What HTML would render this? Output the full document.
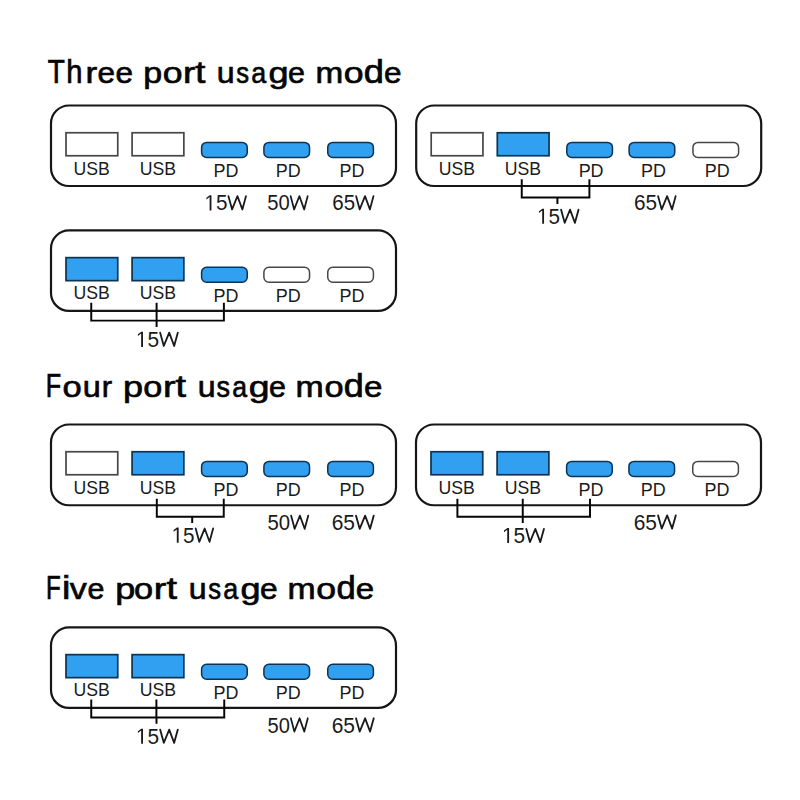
<!DOCTYPE html>
<html><head><meta charset="utf-8"><style>
html,body{margin:0;padding:0;background:#fff;width:800px;height:800px;overflow:hidden}
svg{display:block}
text{font-family:"Liberation Sans",sans-serif;fill:#1a1a1a}
.ttl{fill:#050505;stroke:#050505;stroke-width:0.7px}
</style></head><body>
<svg width="800" height="800" viewBox="0 0 800 800">
<text transform="translate(47.72,82.80) scale(0.887,1.045)" font-size="31.5" class="ttl">T</text>
<text transform="translate(66.33,82.80) scale(0.926,1.045)" font-size="31.5" class="ttl">h</text>
<text transform="translate(85.51,82.80) scale(1.117,0.965)" font-size="31.5" class="ttl">r</text>
<text transform="translate(97.51,82.80) scale(1.001,0.965)" font-size="31.5" class="ttl">e</text>
<text transform="translate(115.51,82.80) scale(1.001,0.965)" font-size="31.5" class="ttl">e</text>
<text transform="translate(143.16,82.80) scale(1.080,0.965)" font-size="31.5" class="ttl">p</text>
<text transform="translate(162.86,82.80) scale(1.130,0.965)" font-size="31.5" class="ttl">o</text>
<text transform="translate(182.88,82.80) scale(1.181,0.965)" font-size="31.5" class="ttl">r</text>
<text transform="translate(195.30,82.80) scale(1.156,1.0)" font-size="31.5" class="ttl">t</text>
<text transform="translate(216.66,82.80) scale(1.020,0.965)" font-size="31.5" class="ttl">u</text>
<text transform="translate(236.14,82.80) scale(0.815,0.965)" font-size="31.5" class="ttl">s</text>
<text transform="translate(251.21,82.80) scale(0.853,0.965)" font-size="31.5" class="ttl">a</text>
<text transform="translate(268.44,82.80) scale(1.144,0.965)" font-size="31.5" class="ttl">g</text>
<text transform="translate(288.06,82.80) scale(0.967,0.965)" font-size="31.5" class="ttl">e</text>
<text transform="translate(315.39,82.80) scale(1.056,0.965)" font-size="31.5" class="ttl">m</text>
<text transform="translate(343.86,82.80) scale(1.130,0.965)" font-size="31.5" class="ttl">o</text>
<text transform="translate(363.83,82.80) scale(1.151,1.045)" font-size="31.5" class="ttl">d</text>
<text transform="translate(384.01,82.80) scale(1.001,0.965)" font-size="31.5" class="ttl">e</text>
<rect x="51.00" y="105.50" width="345.00" height="80.50" rx="18" fill="none" stroke="#161616" stroke-width="2.2"/>
<rect x="66.00" y="132.75" width="51.75" height="23.00" fill="#ffffff" stroke="#474747" stroke-width="1.7"/>
<text transform="translate(73.54,174.50) scale(0.93,1)" font-size="19.0" >USB</text>
<rect x="132.10" y="132.75" width="51.75" height="23.00" fill="#ffffff" stroke="#474747" stroke-width="1.7"/>
<text transform="translate(139.64,174.50) scale(0.93,1)" font-size="19.0" >USB</text>
<rect x="201.60" y="142.40" width="45.65" height="15.00" rx="5" fill="#32a0f0" stroke="#0c3352" stroke-width="1.5"/>
<text transform="translate(213.43,176.90) scale(0.945,1)" font-size="19.0" >PD</text>
<rect x="263.90" y="142.40" width="45.65" height="15.00" rx="5" fill="#32a0f0" stroke="#0c3352" stroke-width="1.5"/>
<text transform="translate(275.73,176.90) scale(0.945,1)" font-size="19.0" >PD</text>
<rect x="327.75" y="142.40" width="45.65" height="15.00" rx="5" fill="#32a0f0" stroke="#0c3352" stroke-width="1.5"/>
<text transform="translate(339.58,176.90) scale(0.945,1)" font-size="19.0" >PD</text>
<rect x="416.20" y="105.50" width="345.00" height="80.50" rx="18" fill="none" stroke="#161616" stroke-width="2.2"/>
<rect x="431.20" y="132.75" width="51.75" height="23.00" fill="#ffffff" stroke="#474747" stroke-width="1.7"/>
<text transform="translate(438.74,174.50) scale(0.93,1)" font-size="19.0" >USB</text>
<rect x="497.30" y="132.75" width="51.75" height="23.00" fill="#32a0f0" stroke="#0c3352" stroke-width="1.7"/>
<text transform="translate(504.84,174.50) scale(0.93,1)" font-size="19.0" >USB</text>
<rect x="566.80" y="142.40" width="45.65" height="15.00" rx="5" fill="#32a0f0" stroke="#0c3352" stroke-width="1.5"/>
<text transform="translate(578.63,176.90) scale(0.945,1)" font-size="19.0" >PD</text>
<rect x="629.10" y="142.40" width="45.65" height="15.00" rx="5" fill="#32a0f0" stroke="#0c3352" stroke-width="1.5"/>
<text transform="translate(640.93,176.90) scale(0.945,1)" font-size="19.0" >PD</text>
<rect x="692.95" y="142.40" width="45.65" height="15.00" rx="5" fill="#ffffff" stroke="#474747" stroke-width="1.5"/>
<text transform="translate(704.78,176.90) scale(0.945,1)" font-size="19.0" >PD</text>
<rect x="51.00" y="230.40" width="345.00" height="80.50" rx="18" fill="none" stroke="#161616" stroke-width="2.2"/>
<rect x="66.00" y="257.65" width="51.75" height="23.00" fill="#32a0f0" stroke="#0c3352" stroke-width="1.7"/>
<text transform="translate(73.54,299.40) scale(0.93,1)" font-size="19.0" >USB</text>
<rect x="132.10" y="257.65" width="51.75" height="23.00" fill="#32a0f0" stroke="#0c3352" stroke-width="1.7"/>
<text transform="translate(139.64,299.40) scale(0.93,1)" font-size="19.0" >USB</text>
<rect x="201.60" y="267.30" width="45.65" height="15.00" rx="5" fill="#32a0f0" stroke="#0c3352" stroke-width="1.5"/>
<text transform="translate(213.43,301.80) scale(0.945,1)" font-size="19.0" >PD</text>
<rect x="263.90" y="267.30" width="45.65" height="15.00" rx="5" fill="#ffffff" stroke="#474747" stroke-width="1.5"/>
<text transform="translate(275.73,301.80) scale(0.945,1)" font-size="19.0" >PD</text>
<rect x="327.75" y="267.30" width="45.65" height="15.00" rx="5" fill="#ffffff" stroke="#474747" stroke-width="1.5"/>
<text transform="translate(339.58,301.80) scale(0.945,1)" font-size="19.0" >PD</text>
<text transform="translate(45.79,396.80) scale(0.799,1.045)" font-size="31.5" class="ttl">F</text>
<text transform="translate(62.40,396.80) scale(1.096,0.965)" font-size="31.5" class="ttl">o</text>
<text transform="translate(82.74,396.80) scale(1.031,0.965)" font-size="31.5" class="ttl">u</text>
<text transform="translate(101.78,396.80) scale(0.990,0.965)" font-size="31.5" class="ttl">r</text>
<text transform="translate(123.03,396.80) scale(1.144,0.965)" font-size="31.5" class="ttl">p</text>
<text transform="translate(143.31,396.80) scale(1.086,0.965)" font-size="31.5" class="ttl">o</text>
<text transform="translate(163.06,396.80) scale(1.200,0.965)" font-size="31.5" class="ttl">r</text>
<text transform="translate(175.53,396.80) scale(1.200,1.0)" font-size="31.5" class="ttl">t</text>
<text transform="translate(197.66,396.80) scale(1.020,0.965)" font-size="31.5" class="ttl">u</text>
<text transform="translate(216.50,396.80) scale(0.859,0.965)" font-size="31.5" class="ttl">s</text>
<text transform="translate(232.32,396.80) scale(0.847,0.965)" font-size="31.5" class="ttl">a</text>
<text transform="translate(248.78,396.80) scale(1.186,0.965)" font-size="31.5" class="ttl">g</text>
<text transform="translate(269.06,396.80) scale(0.967,0.965)" font-size="31.5" class="ttl">e</text>
<text transform="translate(295.60,396.80) scale(1.074,0.965)" font-size="31.5" class="ttl">m</text>
<text transform="translate(324.51,396.80) scale(1.089,0.965)" font-size="31.5" class="ttl">o</text>
<text transform="translate(343.84,396.80) scale(1.144,1.045)" font-size="31.5" class="ttl">d</text>
<text transform="translate(363.94,396.80) scale(1.052,0.965)" font-size="31.5" class="ttl">e</text>
<rect x="51.00" y="424.50" width="345.00" height="80.75" rx="18" fill="none" stroke="#161616" stroke-width="2.2"/>
<rect x="66.00" y="451.75" width="51.75" height="23.00" fill="#ffffff" stroke="#474747" stroke-width="1.7"/>
<text transform="translate(73.54,493.50) scale(0.93,1)" font-size="19.0" >USB</text>
<rect x="132.10" y="451.75" width="51.75" height="23.00" fill="#32a0f0" stroke="#0c3352" stroke-width="1.7"/>
<text transform="translate(139.64,493.50) scale(0.93,1)" font-size="19.0" >USB</text>
<rect x="201.60" y="461.40" width="45.65" height="15.00" rx="5" fill="#32a0f0" stroke="#0c3352" stroke-width="1.5"/>
<text transform="translate(213.43,495.90) scale(0.945,1)" font-size="19.0" >PD</text>
<rect x="263.90" y="461.40" width="45.65" height="15.00" rx="5" fill="#32a0f0" stroke="#0c3352" stroke-width="1.5"/>
<text transform="translate(275.73,495.90) scale(0.945,1)" font-size="19.0" >PD</text>
<rect x="327.75" y="461.40" width="45.65" height="15.00" rx="5" fill="#32a0f0" stroke="#0c3352" stroke-width="1.5"/>
<text transform="translate(339.58,495.90) scale(0.945,1)" font-size="19.0" >PD</text>
<rect x="416.00" y="424.50" width="345.00" height="80.75" rx="18" fill="none" stroke="#161616" stroke-width="2.2"/>
<rect x="431.00" y="451.75" width="51.75" height="23.00" fill="#32a0f0" stroke="#0c3352" stroke-width="1.7"/>
<text transform="translate(438.54,493.50) scale(0.93,1)" font-size="19.0" >USB</text>
<rect x="497.10" y="451.75" width="51.75" height="23.00" fill="#32a0f0" stroke="#0c3352" stroke-width="1.7"/>
<text transform="translate(504.64,493.50) scale(0.93,1)" font-size="19.0" >USB</text>
<rect x="566.60" y="461.40" width="45.65" height="15.00" rx="5" fill="#32a0f0" stroke="#0c3352" stroke-width="1.5"/>
<text transform="translate(578.43,495.90) scale(0.945,1)" font-size="19.0" >PD</text>
<rect x="628.90" y="461.40" width="45.65" height="15.00" rx="5" fill="#32a0f0" stroke="#0c3352" stroke-width="1.5"/>
<text transform="translate(640.73,495.90) scale(0.945,1)" font-size="19.0" >PD</text>
<rect x="692.75" y="461.40" width="45.65" height="15.00" rx="5" fill="#ffffff" stroke="#474747" stroke-width="1.5"/>
<text transform="translate(704.58,495.90) scale(0.945,1)" font-size="19.0" >PD</text>
<text transform="translate(46.12,599.30) scale(0.766,1.045)" font-size="31.5" class="ttl">F</text>
<text transform="translate(62.01,599.30) scale(1.200,1.045)" font-size="31.5" class="ttl">i</text>
<text transform="translate(69.83,599.30) scale(1.081,0.965)" font-size="31.5" class="ttl">v</text>
<text transform="translate(87.46,599.30) scale(0.967,0.965)" font-size="31.5" class="ttl">e</text>
<text transform="translate(115.13,599.30) scale(1.144,0.965)" font-size="31.5" class="ttl">p</text>
<text transform="translate(133.91,599.30) scale(1.089,0.965)" font-size="31.5" class="ttl">o</text>
<text transform="translate(153.69,599.30) scale(1.200,0.965)" font-size="31.5" class="ttl">r</text>
<text transform="translate(166.48,599.30) scale(1.200,1.0)" font-size="31.5" class="ttl">t</text>
<text transform="translate(188.66,599.30) scale(1.020,0.965)" font-size="31.5" class="ttl">u</text>
<text transform="translate(208.14,599.30) scale(0.815,0.965)" font-size="31.5" class="ttl">s</text>
<text transform="translate(223.21,599.30) scale(0.853,0.965)" font-size="31.5" class="ttl">a</text>
<text transform="translate(240.44,599.30) scale(1.144,0.965)" font-size="31.5" class="ttl">g</text>
<text transform="translate(260.00,599.30) scale(1.008,0.965)" font-size="31.5" class="ttl">e</text>
<text transform="translate(287.51,599.30) scale(1.072,0.965)" font-size="31.5" class="ttl">m</text>
<text transform="translate(316.36,599.30) scale(1.130,0.965)" font-size="31.5" class="ttl">o</text>
<text transform="translate(336.40,599.30) scale(1.098,1.045)" font-size="31.5" class="ttl">d</text>
<text transform="translate(355.85,599.30) scale(1.049,0.965)" font-size="31.5" class="ttl">e</text>
<rect x="51.00" y="627.40" width="345.00" height="80.50" rx="18" fill="none" stroke="#161616" stroke-width="2.2"/>
<rect x="66.00" y="654.65" width="51.75" height="23.00" fill="#32a0f0" stroke="#0c3352" stroke-width="1.7"/>
<text transform="translate(73.54,696.40) scale(0.93,1)" font-size="19.0" >USB</text>
<rect x="132.10" y="654.65" width="51.75" height="23.00" fill="#32a0f0" stroke="#0c3352" stroke-width="1.7"/>
<text transform="translate(139.64,696.40) scale(0.93,1)" font-size="19.0" >USB</text>
<rect x="201.60" y="664.30" width="45.65" height="15.00" rx="5" fill="#32a0f0" stroke="#0c3352" stroke-width="1.5"/>
<text transform="translate(213.43,698.80) scale(0.945,1)" font-size="19.0" >PD</text>
<rect x="263.90" y="664.30" width="45.65" height="15.00" rx="5" fill="#32a0f0" stroke="#0c3352" stroke-width="1.5"/>
<text transform="translate(275.73,698.80) scale(0.945,1)" font-size="19.0" >PD</text>
<rect x="327.75" y="664.30" width="45.65" height="15.00" rx="5" fill="#32a0f0" stroke="#0c3352" stroke-width="1.5"/>
<text transform="translate(339.58,698.80) scale(0.945,1)" font-size="19.0" >PD</text>
<g transform="translate(204.41,210.40) scale(0.9409,1)"><path d="M515 0V1237L197 1010V1180L530 1409H696V0Z" transform="scale(0.01074,-0.01074)" fill="#1a1a1a"/><text x="12.235" y="0" font-size="22.0">5</text><path d="M25.577,-14.186 L29.407,-0.950 L35.111,-14.186 L40.321,-0.950 L44.150,-14.186" fill="none" stroke="#1a1a1a" stroke-width="1.9" stroke-linejoin="round" stroke-linecap="round" transform="scale(1,1)"/></g>
<g transform="translate(267.19,210.40) scale(0.9169,1)"><text x="0.000" y="0" font-size="22.0">50</text><path d="M25.603,-14.186 L29.407,-0.950 L35.111,-14.186 L40.321,-0.950 L44.124,-14.186" fill="none" stroke="#1a1a1a" stroke-width="1.9" stroke-linejoin="round" stroke-linecap="round" transform="scale(1,1)"/></g>
<g transform="translate(332.26,210.40) scale(0.9332,1)"><text x="0.000" y="0" font-size="22.0">65</text><path d="M25.585,-14.186 L29.407,-0.950 L35.111,-14.186 L40.321,-0.950 L44.142,-14.186" fill="none" stroke="#1a1a1a" stroke-width="1.9" stroke-linejoin="round" stroke-linecap="round" transform="scale(1,1)"/></g>
<path d="M521.75,179.30 V197.50 H589.40 V179.30 M557.40,197.50 V204.10" fill="none" stroke="#050505" stroke-width="1.95"/>
<g transform="translate(537.01,223.80) scale(0.9409,1)"><path d="M515 0V1237L197 1010V1180L530 1409H696V0Z" transform="scale(0.01074,-0.01074)" fill="#1a1a1a"/><text x="12.235" y="0" font-size="22.0">5</text><path d="M25.577,-14.186 L29.407,-0.950 L35.111,-14.186 L40.321,-0.950 L44.150,-14.186" fill="none" stroke="#1a1a1a" stroke-width="1.9" stroke-linejoin="round" stroke-linecap="round" transform="scale(1,1)"/></g>
<g transform="translate(633.94,210.40) scale(0.9445,1)"><text x="0.000" y="0" font-size="22.0">65</text><path d="M25.573,-14.186 L29.407,-0.950 L35.111,-14.186 L40.321,-0.950 L44.154,-14.186" fill="none" stroke="#1a1a1a" stroke-width="1.9" stroke-linejoin="round" stroke-linecap="round" transform="scale(1,1)"/></g>
<path d="M91.25,302.80 V320.60 H223.90 V302.80 M156.60,302.80 V320.60 M156.60,320.60 V326.90" fill="none" stroke="#050505" stroke-width="1.95"/>
<g transform="translate(135.89,346.90) scale(0.9490,1)"><path d="M515 0V1237L197 1010V1180L530 1409H696V0Z" transform="scale(0.01074,-0.01074)" fill="#1a1a1a"/><text x="12.235" y="0" font-size="22.0">5</text><path d="M25.568,-14.186 L29.407,-0.950 L35.111,-14.186 L40.321,-0.950 L44.159,-14.186" fill="none" stroke="#1a1a1a" stroke-width="1.9" stroke-linejoin="round" stroke-linecap="round" transform="scale(1,1)"/></g>
<path d="M156.80,498.75 V516.75 H223.75 V498.75 M192.20,516.75 V523.00" fill="none" stroke="#050505" stroke-width="1.95"/>
<g transform="translate(171.61,542.70) scale(0.9409,1)"><path d="M515 0V1237L197 1010V1180L530 1409H696V0Z" transform="scale(0.01074,-0.01074)" fill="#1a1a1a"/><text x="12.235" y="0" font-size="22.0">5</text><path d="M25.577,-14.186 L29.407,-0.950 L35.111,-14.186 L40.321,-0.950 L44.150,-14.186" fill="none" stroke="#1a1a1a" stroke-width="1.9" stroke-linejoin="round" stroke-linecap="round" transform="scale(1,1)"/></g>
<g transform="translate(267.44,529.80) scale(0.9248,1)"><text x="0.000" y="0" font-size="22.0">50</text><path d="M25.595,-14.186 L29.407,-0.950 L35.111,-14.186 L40.321,-0.950 L44.133,-14.186" fill="none" stroke="#1a1a1a" stroke-width="1.9" stroke-linejoin="round" stroke-linecap="round" transform="scale(1,1)"/></g>
<g transform="translate(331.63,529.80) scale(0.9536,1)"><text x="0.000" y="0" font-size="22.0">65</text><path d="M25.564,-14.186 L29.407,-0.950 L35.111,-14.186 L40.321,-0.950 L44.164,-14.186" fill="none" stroke="#1a1a1a" stroke-width="1.9" stroke-linejoin="round" stroke-linecap="round" transform="scale(1,1)"/></g>
<path d="M457.40,498.75 V516.75 H590.00 V498.75 M522.75,498.75 V516.75 M522.75,516.75 V523.00" fill="none" stroke="#050505" stroke-width="1.95"/>
<g transform="translate(501.99,543.05) scale(0.9502,1)"><path d="M515 0V1237L197 1010V1180L530 1409H696V0Z" transform="scale(0.01074,-0.01074)" fill="#1a1a1a"/><text x="12.235" y="0" font-size="22.0">5</text><path d="M25.567,-14.186 L29.407,-0.950 L35.111,-14.186 L40.321,-0.950 L44.160,-14.186" fill="none" stroke="#1a1a1a" stroke-width="1.9" stroke-linejoin="round" stroke-linecap="round" transform="scale(1,1)"/></g>
<g transform="translate(633.68,529.55) scale(0.9536,1)"><text x="0.000" y="0" font-size="22.0">65</text><path d="M25.564,-14.186 L29.407,-0.950 L35.111,-14.186 L40.321,-0.950 L44.164,-14.186" fill="none" stroke="#1a1a1a" stroke-width="1.9" stroke-linejoin="round" stroke-linecap="round" transform="scale(1,1)"/></g>
<path d="M91.25,699.50 V717.50 H224.25 V699.50 M156.40,699.50 V717.50 M156.50,717.50 V723.75" fill="none" stroke="#050505" stroke-width="1.95"/>
<g transform="translate(135.89,743.80) scale(0.9490,1)"><path d="M515 0V1237L197 1010V1180L530 1409H696V0Z" transform="scale(0.01074,-0.01074)" fill="#1a1a1a"/><text x="12.235" y="0" font-size="22.0">5</text><path d="M25.568,-14.186 L29.407,-0.950 L35.111,-14.186 L40.321,-0.950 L44.159,-14.186" fill="none" stroke="#1a1a1a" stroke-width="1.9" stroke-linejoin="round" stroke-linecap="round" transform="scale(1,1)"/></g>
<g transform="translate(267.44,732.50) scale(0.9146,1)"><text x="0.000" y="0" font-size="22.0">50</text><path d="M25.606,-14.186 L29.407,-0.950 L35.111,-14.186 L40.321,-0.950 L44.122,-14.186" fill="none" stroke="#1a1a1a" stroke-width="1.9" stroke-linejoin="round" stroke-linecap="round" transform="scale(1,1)"/></g>
<g transform="translate(331.63,732.50) scale(0.9536,1)"><text x="0.000" y="0" font-size="22.0">65</text><path d="M25.564,-14.186 L29.407,-0.950 L35.111,-14.186 L40.321,-0.950 L44.164,-14.186" fill="none" stroke="#1a1a1a" stroke-width="1.9" stroke-linejoin="round" stroke-linecap="round" transform="scale(1,1)"/></g>
</svg></body></html>
